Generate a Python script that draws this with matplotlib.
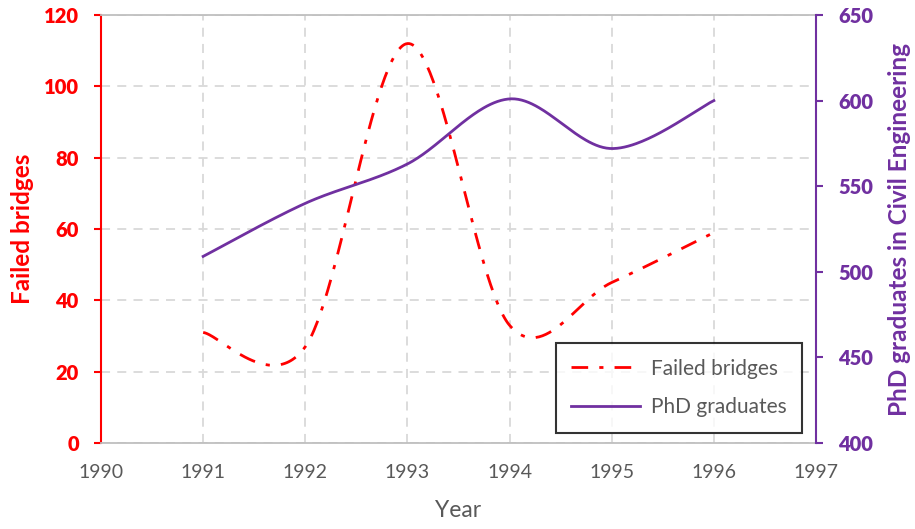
import numpy as np
import matplotlib
matplotlib.use("Agg")
import matplotlib.pyplot as plt
from matplotlib.lines import Line2D

years = [1991, 1992, 1993, 1994, 1995, 1996]
failed_bridges = [31, 27, 112, 33, 45, 59]
phd_graduates = [509, 540, 563, 601, 572, 600]

RED = "#FF0000"
PURPLE = "#7030A0"
GRAY = "#595959"
GRID = "#D9D9D9"

plt.rcParams['font.family'] = ['Lato', 'DejaVu Sans']


def smooth(xs, ys, n=60):
    xs = np.asarray(xs, float)
    ys = np.asarray(ys, float)
    px = np.concatenate([[xs[0]], xs, [xs[-1]]])
    py = np.concatenate([[ys[0]], ys, [ys[-1]]])
    ox, oy = [], []
    t = np.linspace(0, 1, n)
    for i in range(1, len(px) - 2):
        p0 = np.array([px[i], py[i]])
        p3 = np.array([px[i + 1], py[i + 1]])
        c1 = p0 + (np.array([px[i + 1], py[i + 1]]) - np.array([px[i - 1], py[i - 1]])) / 6
        c2 = p3 - (np.array([px[i + 2], py[i + 2]]) - np.array([px[i], py[i]])) / 6
        b = ((1 - t) ** 3)[:, None] * p0 + (3 * (1 - t) ** 2 * t)[:, None] * c1 \
            + (3 * (1 - t) * t ** 2)[:, None] * c2 + (t ** 3)[:, None] * p3
        ox.extend(b[:, 0])
        oy.extend(b[:, 1])
    return np.array(ox), np.array(oy)


fig = plt.figure(figsize=(9.15, 5.29), dpi=100)
ax = fig.add_axes([0.1104, 0.1626, 0.7814, 0.809])
ax2 = ax.twinx()

sx, sy = smooth(years, failed_bridges)
ax.plot(sx, sy, color=RED, lw=2, linestyle=(0, (6, 4, 1.5, 4)), zorder=3)
px, py = smooth(years, phd_graduates)
ax2.plot(px, py, color=PURPLE, lw=2, zorder=3)

ax.set_xlim(1990, 1997)
ax.set_ylim(0, 120)
ax2.set_ylim(400, 650)
ax.set_xticks(range(1990, 1998))
ax.set_yticks(range(0, 121, 20))
ax2.set_yticks(range(400, 651, 50))
ax.set_yticklabels([str(v) for v in range(0, 121, 20)], fontweight='heavy')
ax2.set_yticklabels([str(v) for v in range(400, 651, 50)], fontweight='heavy')

ax.grid(True, color=GRID, linestyle=(0, (5, 4)), lw=1.3)
ax.set_axisbelow(True)

for s in ['top', 'bottom']:
    ax.spines[s].set_color('#BFBFBF')
    ax.spines[s].set_linewidth(1.3)
    ax2.spines[s].set_visible(False)
ax.spines['left'].set_color(RED)
ax.spines['left'].set_linewidth(1.5)
ax.spines['right'].set_visible(False)
ax2.spines['left'].set_visible(False)
ax2.spines['right'].set_color(PURPLE)
ax2.spines['right'].set_linewidth(1.5)

ax.tick_params(axis='x', length=0, labelsize=14, labelcolor=GRAY, pad=15)
ax.tick_params(axis='y', colors=RED, length=5, width=1.5, labelsize=14.5, pad=11)
ax2.tick_params(axis='y', colors=PURPLE, length=5, width=1.5, labelsize=14.5, pad=11)

ax.set_xlabel("Year", fontsize=16.5, color=GRAY, labelpad=14)
ax.set_ylabel("Failed bridges", fontsize=17.5, color=RED, fontweight='bold', labelpad=7)
ax2.set_ylabel("PhD graduates in Civil Engineering", fontsize=17.5, color=PURPLE,
               fontweight='bold', labelpad=11)

handles = [Line2D([], [], color=RED, lw=2, linestyle=(0, (6, 4, 1.5, 4))),
           Line2D([], [], color=PURPLE, lw=2)]
leg = ax2.legend(handles, ["Failed bridges", "PhD graduates"], loc='lower right',
                 bbox_to_anchor=(0.9804, 0.0234), borderaxespad=0, fontsize=15,
                 frameon=True, fancybox=False, edgecolor='black', handlelength=3.3,
                 labelspacing=0.9, borderpad=0.75, handletextpad=0.5)
leg.get_frame().set_linewidth(1.5)
for t in leg.get_texts():
    t.set_color(GRAY)

fig.savefig("out.png", dpi=100)
